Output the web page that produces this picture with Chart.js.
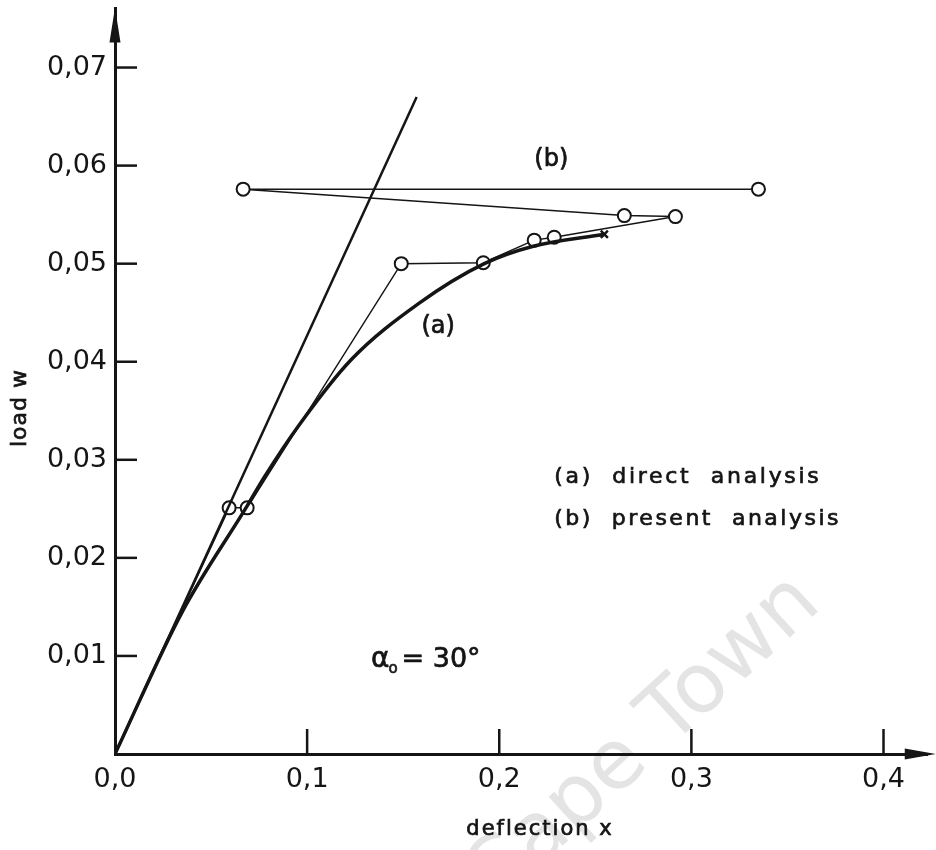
<!DOCTYPE html>
<html>
<head>
<meta charset="utf-8">
<script src="https://cdn.jsdelivr.net/npm/chart.js@4.4.1/dist/chart.umd.min.js"></script>
<style>
  html, body { margin: 0; padding: 0; background: #fff; }
  canvas { display: block; }
</style>
</head>
<body>
<canvas id="chart" width="936" height="850"></canvas>
<script>
// curve (a) : direct analysis
const curveX = [0, 0.035, 0.0688, 0.0776, 0.0953, 0.1229, 0.1578, 0.1922, 0.2182, 0.2547];
const curveY = [0, 0.0145, 0.0253, 0.0282, 0.0334, 0.0402, 0.0459, 0.0500, 0.0518, 0.0530];

// straight line (linear solution)
const linearX = [0, 0.157];
const linearY = [0, 0.0670];

// (b) : present analysis, in iteration order
const presentX = [0, 0.0594, 0.0688, 0.149, 0.1917, 0.2182, 0.2286, 0.2917, 0.2651, 0.0667, 0.3349];
const presentY = [0, 0.0251, 0.0251, 0.0500, 0.0501, 0.0524, 0.0527, 0.0548, 0.0549, 0.0576, 0.0576];

// tick labels
const xTicks = [0, 0.1, 0.2, 0.3, 0.4];
const yTicks = [0.01, 0.02, 0.03, 0.04, 0.05, 0.06, 0.07];

const FONT = "'DejaVu Sans', sans-serif";
const INK = '#151515';
const X_ARROW = 0.4272;   // where the x axis arrow ends

function toPoints(xs, ys) {
    return xs.map((x, i) => ({ x: x, y: ys[i] }));
}

function comma(v, digits) {
    return v.toFixed(digits).replace('.', ',');
}

// marker styles for (b): no circle at the origin
const presentRadius = presentX.map((x, i) => i === 0 ? 0 : 6.5);
const lastB = presentX.length - 1;

// text drawn in the plot (data coordinates)
const notes = [
    { text: '(b)', x: 0.2271, y: 0.0606, align: 'center', size: 24, spacing: 0 },
    { text: '(a)', x: 0.1682, y: 0.0436, align: 'center', size: 24, spacing: 0 },
    { text: '(a)  direct  analysis', x: 0.2286, y: 0.0282, align: 'left', size: 22, spacing: 2.7 },
    { text: '(b)  present  analysis', x: 0.2286, y: 0.0239, align: 'left', size: 22, spacing: 2.5 }
];

function inkText(ctx, text, x, y) {
    ctx.fillText(text, x, y);
    ctx.lineWidth = 0.7;
    ctx.strokeText(text, x, y);
}

// watermark, inward ticks, arrows, axis titles and notes
const decorPlugin = {
    id: 'decor',
    beforeDraw(chart) {
        const ctx = chart.ctx;
        ctx.save();
        ctx.translate(823, 607);
        ctx.rotate(-42.5 * Math.PI / 180);
        ctx.font = `83px ${FONT}`;
        ctx.fillStyle = '#e4e4e4';
        ctx.textAlign = 'right';
        ctx.textBaseline = 'alphabetic';
        ctx.fillText('Cape Town', 0, 0);
        ctx.restore();
    },
    afterDraw(chart) {
        const ctx = chart.ctx;
        const xs = chart.scales.x, ys = chart.scales.y;
        const x0 = xs.getPixelForValue(0), y0 = ys.getPixelForValue(0);
        const xTip = xs.getPixelForValue(X_ARROW);
        const top = chart.chartArea.top, right = chart.chartArea.right;
        ctx.save();
        ctx.strokeStyle = INK;
        ctx.fillStyle = INK;

        // x axis runs on to the arrow
        ctx.lineWidth = 3;
        ctx.beginPath();
        ctx.moveTo(right - 2, y0);
        ctx.lineTo(xTip - 10, y0);
        ctx.stroke();

        // inward tick marks
        ctx.lineWidth = 2.5;
        ys.ticks.forEach(t => {
            const py = ys.getPixelForValue(t.value);
            ctx.beginPath();
            ctx.moveTo(x0, py);
            ctx.lineTo(x0 + 22, py);
            ctx.stroke();
        });
        xs.ticks.forEach(t => {
            if (t.value === 0) return;
            const px = xs.getPixelForValue(t.value);
            ctx.beginPath();
            ctx.moveTo(px, y0);
            ctx.lineTo(px, y0 - 25);
            ctx.stroke();
        });

        // arrow heads
        ctx.beginPath();
        ctx.moveTo(x0, top - 1);
        ctx.lineTo(x0 + 5.5, top + 34);
        ctx.lineTo(x0 - 5.5, top + 34);
        ctx.closePath();
        ctx.fill();
        ctx.beginPath();
        ctx.moveTo(xTip, y0);
        ctx.lineTo(xTip - 31, y0 - 5.5);
        ctx.lineTo(xTip - 31, y0 + 5.5);
        ctx.closePath();
        ctx.fill();

        // axis titles
        ctx.textBaseline = 'middle';
        ctx.textAlign = 'center';
        ctx.font = `21px ${FONT}`;
        ctx.letterSpacing = '2px';
        inkText(ctx, 'deflection x', 540, 830);
        ctx.save();
        ctx.translate(20, 408);
        ctx.rotate(-Math.PI / 2);
        ctx.font = `22px ${FONT}`;
        ctx.letterSpacing = '1px';
        inkText(ctx, 'load w', 0, 0);
        ctx.restore();

        // notes
        notes.forEach(n => {
            ctx.font = `${n.size}px ${FONT}`;
            ctx.textAlign = n.align;
            ctx.letterSpacing = n.spacing + 'px';
            inkText(ctx, n.text, xs.getPixelForValue(n.x), ys.getPixelForValue(n.y));
        });
        ctx.letterSpacing = '0px';

        // alpha_o = 30 deg
        let ax = xs.getPixelForValue(0.1333), ay = ys.getPixelForValue(0.0096);
        ctx.textAlign = 'left';
        ctx.font = `28px ${FONT}`;
        inkText(ctx, 'α', ax, ay);
        ax += ctx.measureText('α').width;
        ctx.font = `15px ${FONT}`;
        inkText(ctx, 'o', ax - 1, ay + 9);
        ax += 12;
        ctx.font = `27px ${FONT}`;
        inkText(ctx, '= 30°', ax, ay);
        ctx.restore();
    }
};

const ctx = document.getElementById('chart').getContext('2d');
new Chart(ctx, {
    type: 'scatter',
    data: {
        datasets: [
            {
                label: 'linear',
                data: toPoints(linearX, linearY),
                showLine: true,
                borderColor: INK,
                borderWidth: 2.5,
                pointRadius: 0
            },
            {
                label: '(a) direct analysis',
                data: toPoints(curveX, curveY),
                showLine: true,
                borderColor: INK,
                borderWidth: 3.5,
                cubicInterpolationMode: 'monotone',
                pointRadius: 0
            },
            {
                label: '(a) end',
                data: [{ x: curveX[curveX.length - 1], y: curveY[curveY.length - 1] }],
                pointStyle: 'crossRot',
                pointRadius: 5,
                borderColor: INK,
                borderWidth: 2.5
            },
            {
                label: '(b) present analysis',
                data: toPoints(presentX, presentY),
                showLine: true,
                borderColor: INK,
                borderWidth: 1.5,
                tension: 0,
                pointRadius: presentRadius,
                pointBackgroundColor: '#fff',
                pointBorderColor: INK,
                pointBorderWidth: 2
            },
            {
                label: '(b) end',
                data: [{ x: presentX[lastB], y: presentY[lastB] }],
                pointStyle: 'crossRot',
                pointRadius: 4.5,
                borderColor: INK,
                borderWidth: 2
            }
        ]
    },
    options: {
        responsive: false,
        animation: false,
        events: [],
        layout: { padding: { top: 8, right: 0, left: 0, bottom: 0 } },
        plugins: { legend: { display: false }, tooltip: { enabled: false } },
        scales: {
            x: {
                type: 'linear',
                min: 0,
                max: 0.4229,
                grid: { display: false },
                border: { display: true, color: INK, width: 3 },
                afterBuildTicks: s => { s.ticks = xTicks.map(v => ({ value: v })); },
                afterFit: s => { s.height = 96; s.paddingLeft = 0; s.paddingRight = 0; },
                ticks: {
                    padding: 2,
                    color: INK,
                    font: { family: FONT, size: 27 },
                    callback: v => comma(v, 1)
                }
            },
            y: {
                type: 'linear',
                min: 0,
                max: 0.07602,
                grid: { display: false },
                border: { display: true, color: INK, width: 3 },
                afterBuildTicks: s => { s.ticks = yTicks.map(v => ({ value: v })); },
                afterFit: s => { s.width = 115; s.paddingTop = 0; s.paddingBottom = 0; },
                ticks: {
                    padding: 0,
                    color: INK,
                    font: { family: FONT, size: 27 },
                    callback: v => comma(v, 2)
                }
            }
        }
    },
    plugins: [decorPlugin]
});
</script>
</body>
</html>
